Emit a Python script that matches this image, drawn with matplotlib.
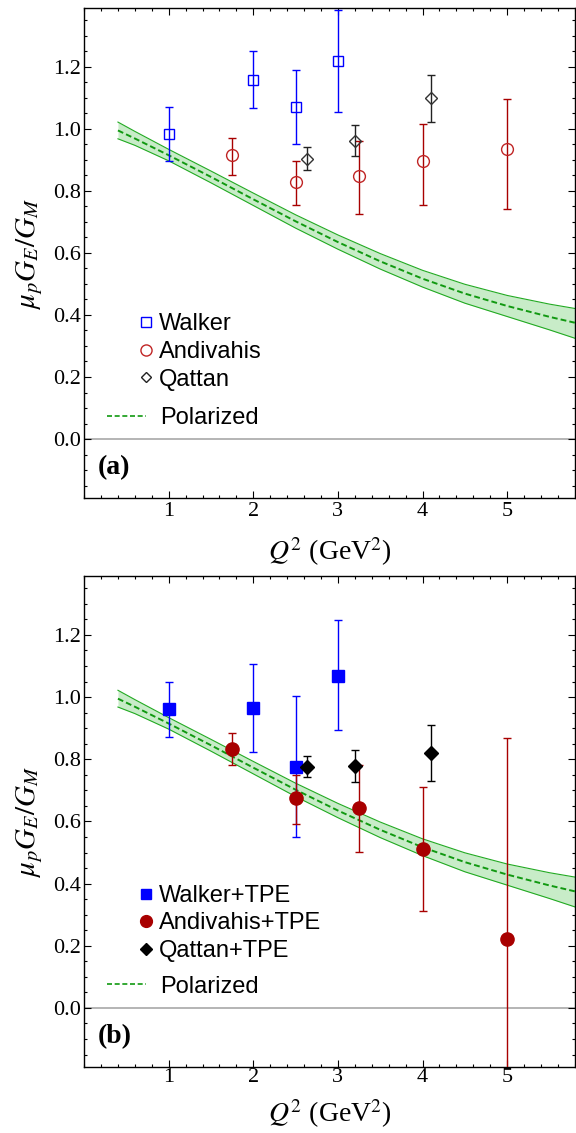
import matplotlib
matplotlib.use('Agg')
import matplotlib.pyplot as plt
from matplotlib.ticker import FixedLocator, MultipleLocator, FormatStrFormatter
from matplotlib.lines import Line2D

plt.rcParams['font.family'] = 'Liberation Serif'
plt.rcParams['mathtext.fontset'] = 'stix'

# polarization transfer fit with its error band
q2_pol = [0.4, 0.6, 1.0, 1.5, 2.0, 2.5, 3.0, 3.5, 4.0, 4.5, 5.0, 5.5, 5.8]
pol = [0.995, 0.969, 0.915, 0.845, 0.773, 0.702, 0.635, 0.573, 0.517, 0.469, 0.429, 0.394, 0.375]
pol_hi = [1.022, 0.992, 0.934, 0.864, 0.793, 0.723, 0.658, 0.598, 0.544, 0.499, 0.463, 0.435, 0.421]
pol_lo = [0.968, 0.947, 0.897, 0.826, 0.753, 0.680, 0.612, 0.548, 0.490, 0.438, 0.395, 0.352, 0.325]

# Rosenbluth extractions
q2_walker = [1.0, 2.0, 2.5, 3.0]
walker = [0.985, 1.158, 1.071, 1.220]
walker_lo = [0.088, 0.090, 0.120, 0.166]
walker_hi = [0.085, 0.094, 0.119, 0.164]

q2_andivahis = [1.75, 2.5, 3.25, 4.0, 5.0]
andivahis = [0.915, 0.828, 0.849, 0.896, 0.934]
andivahis_lo = [0.064, 0.074, 0.125, 0.141, 0.193]
andivahis_hi = [0.056, 0.067, 0.111, 0.120, 0.163]

q2_qattan = [2.64, 3.20, 4.10]
qattan = [0.904, 0.962, 1.100]
qattan_lo = [0.038, 0.050, 0.078]
qattan_hi = [0.039, 0.052, 0.075]

# same data after two-photon exchange corrections
walker_tpe = [0.962, 0.966, 0.776, 1.068]
walker_tpe_lo = [0.090, 0.143, 0.225, 0.175]
walker_tpe_hi = [0.087, 0.142, 0.227, 0.180]

andivahis_tpe = [0.832, 0.674, 0.644, 0.512, 0.222]
andivahis_tpe_lo = [0.052, 0.082, 0.141, 0.201, 0.647]
andivahis_tpe_hi = [0.051, 0.075, 0.138, 0.198, 0.647]

qattan_tpe = [0.775, 0.778, 0.820]
qattan_tpe_lo = [0.033, 0.050, 0.091]
qattan_tpe_hi = [0.035, 0.052, 0.090]

BLUE = '#0000ff'
RED = '#c02525'
DARKRED = '#a80000'
GREEN_FILL = '#c8ecc8'
GREEN_EDGE = '#22aa22'
GREEN_LINE = '#119911'
LEGEND_FONT = {'family': 'Liberation Sans', 'size': 17}


def setup_axes(ax, tag, tickpad, xlabelpad):
    ax.axhline(0, color='#a8a8a8', lw=1.2, zorder=1)
    ax.fill_between(q2_pol, pol_lo, pol_hi, color=GREEN_FILL, lw=0, zorder=2)
    ax.plot(q2_pol, pol_hi, color=GREEN_EDGE, lw=0.8, zorder=2)
    ax.plot(q2_pol, pol_lo, color=GREEN_EDGE, lw=0.8, zorder=2)
    ax.plot(q2_pol, pol, color=GREEN_LINE, lw=1.4, ls=(0, (3, 1.6)), zorder=3)

    ax.set_xlim(0, 5.8)
    ax.set_ylim(-0.19, 1.39)
    ax.xaxis.set_major_locator(FixedLocator([1, 2, 3, 4, 5]))
    ax.xaxis.set_minor_locator(MultipleLocator(0.2))
    ax.yaxis.set_major_locator(MultipleLocator(0.2))
    ax.yaxis.set_minor_locator(MultipleLocator(0.05))
    ax.yaxis.set_major_formatter(FormatStrFormatter('%.1f'))
    ax.tick_params(which='both', direction='in', top=True, right=True,
                   labelsize=16, width=0.8)
    ax.tick_params(which='major', length=5)
    ax.tick_params(which='minor', length=2.5)
    ax.tick_params(axis='x', pad=tickpad)
    ax.tick_params(axis='y', pad=2)
    for sp in ax.spines.values():
        sp.set_linewidth(1.0)
    ax.set_xlabel(r'$Q^2$ (GeV$^2$)', fontsize=20, labelpad=xlabelpad)
    ax.set_ylabel(r'$\mu_p G_E/G_M$', fontsize=21, labelpad=6)
    ax.text(0.028, 0.062, tag, transform=ax.transAxes, fontsize=20,
            fontweight='bold', va='center', ha='left')


def add_legends(ax, handles, labels, top):
    leg = ax.legend(handles, labels, loc='upper left',
                    bbox_to_anchor=(0.111, top), frameon=False, prop=LEGEND_FONT,
                    handlelength=0.6, handletextpad=0.25, labelspacing=0.24,
                    borderpad=0, borderaxespad=0)
    ax.add_artist(leg)
    pol_handle = Line2D([], [], color=GREEN_LINE, lw=1.2, ls=(0, (3, 1.6)))
    ax.legend([pol_handle], ['Polarized'], loc='upper left',
              bbox_to_anchor=(0.047, 0.186), frameon=False, prop=LEGEND_FONT,
              handlelength=1.65, handletextpad=0.6,
              borderpad=0, borderaxespad=0)


fig = plt.figure(figsize=(5.76, 11.33), dpi=100)
ax_a = fig.add_axes([0.146, 0.5605, 0.852, 0.4325])
ax_b = fig.add_axes([0.146, 0.0583, 0.852, 0.4334])

# (a) uncorrected Rosenbluth ratios
setup_axes(ax_a, '(a)', tickpad=3, xlabelpad=10)
eb = dict(elinewidth=1.0, capsize=3, capthick=1.0, zorder=4)
ax_a.errorbar(q2_walker, walker, yerr=[walker_lo, walker_hi], fmt='s', ms=7.5,
              mfc='none', mec=BLUE, mew=1.0, ecolor=BLUE, **eb)
ax_a.errorbar(q2_andivahis, andivahis, yerr=[andivahis_lo, andivahis_hi], fmt='o',
              ms=8.5, mfc='none', mec=RED, mew=1.0, ecolor=DARKRED, **eb)
ax_a.errorbar(q2_qattan, qattan, yerr=[qattan_lo, qattan_hi], fmt='D', ms=6.5,
              mfc='none', mec='#333333', mew=1.0, ecolor='#222222', **eb)
add_legends(ax_a,
            [Line2D([], [], ls='none', marker='s', ms=7, mfc='none', mec=BLUE),
             Line2D([], [], ls='none', marker='o', ms=8, mfc='none', mec=RED),
             Line2D([], [], ls='none', marker='D', ms=5.5, mfc='none', mec='#222222')],
            ['Walker', 'Andivahis', 'Qattan'], top=0.377)

# (b) after TPE corrections
setup_axes(ax_b, '(b)', tickpad=1, xlabelpad=7)
ax_b.errorbar(q2_walker, walker_tpe, yerr=[walker_tpe_lo, walker_tpe_hi], fmt='s',
              ms=8, color=BLUE, ecolor=BLUE, **eb)
ax_b.errorbar(q2_andivahis, andivahis_tpe, yerr=[andivahis_tpe_lo, andivahis_tpe_hi],
              fmt='o', ms=9.5, color=DARKRED, ecolor=DARKRED, **eb)
ax_b.errorbar(q2_qattan, qattan_tpe, yerr=[qattan_tpe_lo, qattan_tpe_hi], fmt='D',
              ms=7.5, color='black', ecolor='black', **eb)
add_legends(ax_b,
            [Line2D([], [], ls='none', marker='s', ms=7, color=BLUE),
             Line2D([], [], ls='none', marker='o', ms=8.5, color=DARKRED),
             Line2D([], [], ls='none', marker='D', ms=6, color='black')],
            ['Walker+TPE', 'Andivahis+TPE', 'Qattan+TPE'], top=0.371)

fig.savefig('out.png', dpi=100)
plt.close(fig)
